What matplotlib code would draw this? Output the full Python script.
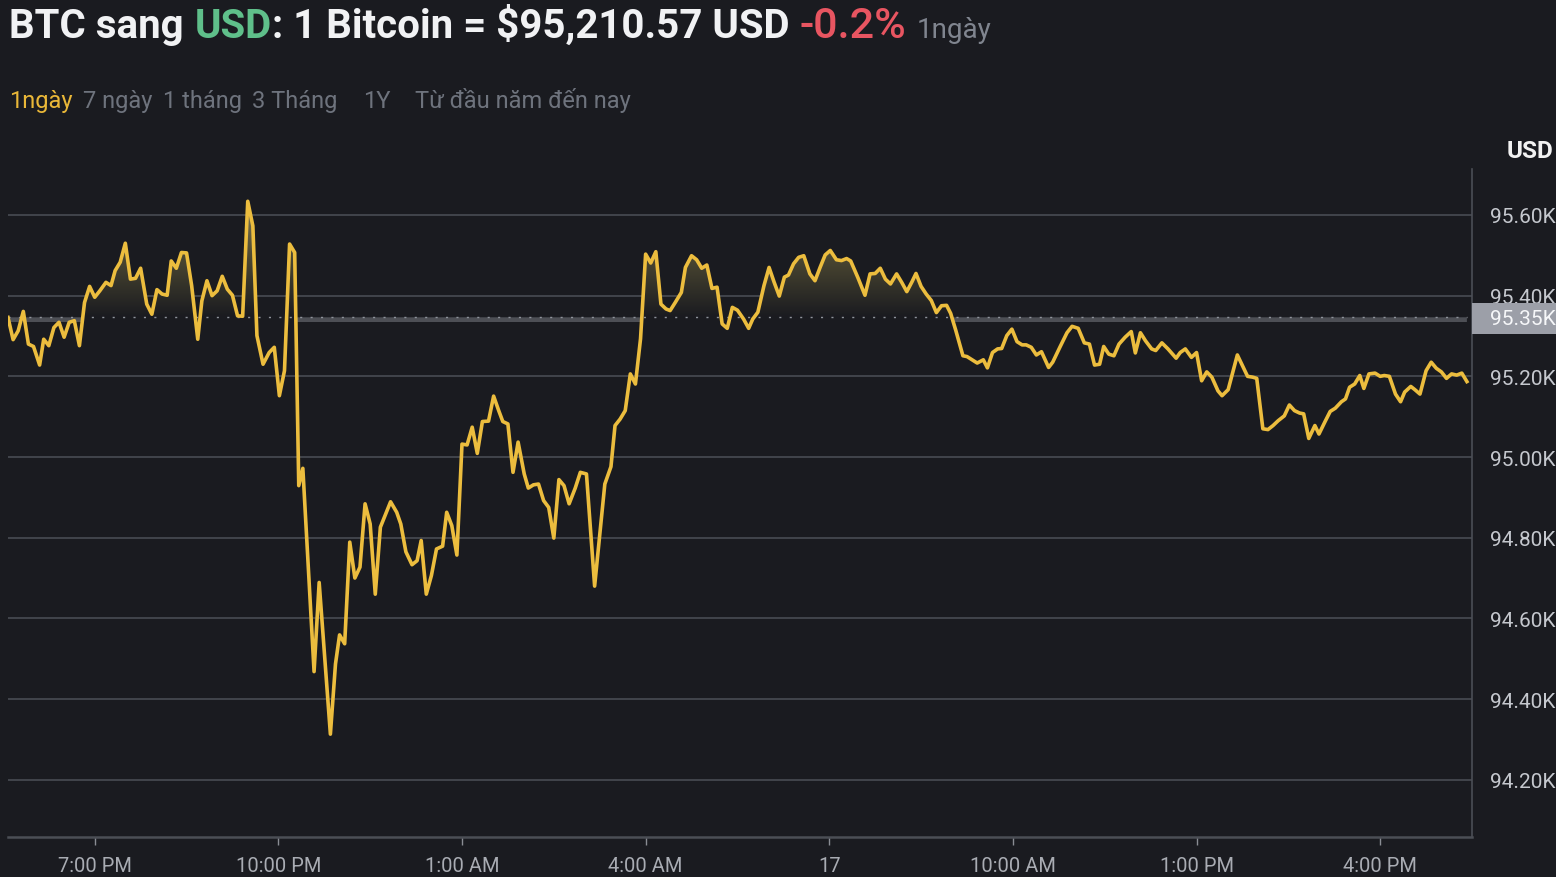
import numpy as np
import matplotlib
matplotlib.use("Agg")
import matplotlib.pyplot as plt
from matplotlib.path import Path
from matplotlib.patches import PathPatch, Rectangle
from matplotlib.colors import LinearSegmentedColormap
from matplotlib.transforms import IdentityTransform, offset_copy

plt.rcParams['font.family'] = ['Roboto', 'DejaVu Sans']

# minutes after 17:35 (day 16), BTC price in USD
minutes = [
    0, 5, 10, 15, 20, 25, 31, 35, 40, 45,
    50, 55, 60, 65, 70, 75, 80, 85, 90, 96,
    101, 105, 110, 115, 120, 125, 130, 136, 141, 146,
    151, 156, 160, 165, 170, 175, 180, 186, 190, 195,
    200, 205, 210, 215, 220, 225, 230, 235, 240, 244,
    250, 256, 261, 266, 271, 276, 281, 285, 289, 300,
    305, 316, 321, 325, 330, 335, 340, 345, 350, 355,
    360, 365, 375, 381, 385, 390, 396, 401, 405, 410,
    415, 420, 426, 430, 435, 440, 445, 450, 455, 460,
    465, 471, 476, 481, 485, 490, 495, 500, 506, 510,
    515, 520, 525, 530, 535, 540, 545, 550, 556, 561,
    567, 575, 581, 585, 591, 595, 600, 605, 610, 615,
    620, 625, 630, 635, 640, 645, 649, 654, 660, 664,
    670, 675, 680, 685, 690, 695, 700, 705, 710, 715,
    721, 726, 730, 735, 741, 746, 751, 756, 761, 765,
    770, 775, 780, 786, 791, 796, 801, 806, 812, 817,
    822, 826, 833, 840, 845, 850, 855, 860, 865, 871,
    876, 881, 886, 890, 895, 900, 905, 910, 915, 920,
    924, 929, 936, 940, 945, 950, 956, 960, 965, 970,
    974, 979, 984, 989, 994, 998, 1003, 1008, 1013, 1020,
    1024, 1031, 1038, 1043, 1049, 1055, 1060, 1065, 1070, 1074,
    1079, 1084, 1089, 1095, 1101, 1105, 1110, 1115, 1121, 1125,
    1131, 1137, 1145, 1149, 1154, 1160, 1165, 1170, 1175, 1180,
    1186, 1190, 1196, 1205, 1215, 1220, 1224, 1230, 1235, 1240,
    1245, 1251, 1256, 1261, 1266, 1270, 1275, 1281, 1285, 1291,
    1296, 1301, 1307, 1311, 1315, 1320, 1325, 1329, 1334, 1340,
    1345, 1349, 1354, 1360, 1365, 1369, 1375, 1379, 1384, 1390,
    1395, 1400, 1405, 1410, 1415, 1420, 1425, 1430,
]
prices = [
    95346, 95291, 95313, 95361, 95280, 95274, 95228, 95292, 95276, 95321,
    95334, 95297, 95334, 95338, 95276, 95383, 95423, 95396, 95412, 95433,
    95425, 95462, 95483, 95530, 95441, 95443, 95468, 95379, 95354, 95415,
    95404, 95401, 95486, 95468, 95507, 95506, 95425, 95292, 95387, 95437,
    95400, 95412, 95448, 95416, 95401, 95350, 95349, 95634, 95573, 95301,
    95230, 95259, 95272, 95152, 95214, 95528, 95507, 94929, 94972, 94468,
    94689, 94313, 94487, 94559, 94537, 94789, 94700, 94727, 94884, 94834,
    94660, 94826, 94889, 94863, 94834, 94765, 94733, 94743, 94793, 94660,
    94706, 94772, 94779, 94863, 94830, 94757, 95032, 95030, 95074, 95009,
    95088, 95089, 95151, 95115, 95088, 95082, 94962, 95037, 94958, 94923,
    94931, 94933, 94892, 94875, 94799, 94944, 94929, 94884, 94923, 94962,
    94958, 94680, 94832, 94933, 94976, 95078, 95094, 95115, 95206, 95181,
    95293, 95503, 95481, 95509, 95379, 95367, 95363, 95383, 95408, 95470,
    95499, 95489, 95468, 95476, 95418, 95421, 95330, 95319, 95371, 95364,
    95342, 95319, 95342, 95359, 95425, 95470, 95433, 95399, 95446, 95451,
    95479, 95495, 95499, 95454, 95437, 95470, 95501, 95512, 95489, 95487,
    95492, 95486, 95445, 95401, 95454, 95455, 95468, 95441, 95429, 95454,
    95433, 95410, 95434, 95455, 95423, 95404, 95388, 95358, 95375, 95376,
    95356, 95314, 95251, 95249, 95241, 95233, 95241, 95221, 95259, 95268,
    95269, 95301, 95317, 95286, 95278, 95278, 95272, 95253, 95261, 95222,
    95235, 95272, 95308, 95324, 95319, 95283, 95280, 95228, 95230, 95274,
    95255, 95251, 95280, 95297, 95311, 95258, 95308, 95288, 95268, 95264,
    95283, 95268, 95245, 95259, 95268, 95247, 95259, 95189, 95211, 95198,
    95164, 95152, 95167, 95253, 95200, 95198, 95195, 95070, 95068, 95078,
    95090, 95102, 95129, 95115, 95109, 95107, 95046, 95078, 95057, 95088,
    95113, 95121, 95137, 95144, 95173, 95181, 95202, 95170, 95206, 95208,
    95200, 95202, 95200, 95156, 95137, 95161, 95175, 95167, 95156, 95214,
    95235, 95220, 95211, 95195, 95206, 95203, 95208, 95187,
]
prev_close = 95348

start_hour = 17 + 35 / 60
tick_hours = [19, 22, 25, 28, 31, 34, 37, 40]
tick_labels = ["7:00 PM", "10:00 PM", "1:00 AM", "4:00 AM", "17",
               "10:00 AM", "1:00 PM", "4:00 PM"]
y_ticks = [94200, 94400, 94600, 94800, 95000, 95200, 95400, 95600]

tabs = ["1ngày", "7 ngày", "1 tháng", "3 Tháng", "1Y", "Từ đầu năm đến nay"]
tab_x = [9, 83, 163, 252, 363, 415]

BG = '#1a1b20'
GOLD = '#ecbd3e'
W, H = 1556, 878

fig = plt.figure(figsize=(W / 100, H / 100), dpi=100, facecolor=BG)
ax = fig.add_axes([8 / W, 1 - 838 / H, 1464 / W, 668 / H])
ax.set_facecolor(BG)

t = np.array(minutes, float)
p = np.array(prices, float)
base = prev_close

# gradient area above previous close
fb = ax.fill_between(t, p, base, where=p >= base, interpolate=True,
                     color='none', lw=0)
clip = PathPatch(Path.make_compound_path(*fb.get_paths()),
                 transform=ax.transData, fc='none', ec='none')
ax.add_patch(clip)
cmap = LinearSegmentedColormap.from_list('olive', [BG, '#4a4631', '#817a55'])
grad = np.linspace(0, 1, 256).reshape(-1, 1)
im = ax.imshow(grad, cmap=cmap, origin='lower', aspect='auto',
               extent=[t[0], t[-1], base, p.max()], zorder=1,
               interpolation='bilinear')
im.set_clip_path(clip)

# grey band under the close line, hidden where the area is drawn
tg = np.linspace(t[0], t[-1], 3000)
pg = np.interp(tg, t, p)
up = pg >= base
i = 0
while i < len(up):
    j = i
    while j < len(up) and up[j] == up[i]:
        j += 1
    if not up[i] and i > 0 and j < len(up) and tg[j - 1] - tg[i] < 30:
        up[i:j] = True
    i = j
band = np.where(up, np.nan, base)
ax.plot(tg, band, color='#4d4f55', lw=3.4, solid_capstyle='butt', zorder=0.8,
        transform=offset_copy(ax.transData, fig=fig, y=-3, units='dots'))

ax.plot([t[0], t[-1]], [base, base], color='#8f939b', lw=1,
        ls=(0, (1.5, 6)), zorder=2)
ax.plot(t, p, color=GOLD, lw=2.6, zorder=3, solid_joinstyle='round')

ax.set_xlim(0, 1435)
ax.set_ylim(94058, 95714)

ax.set_yticks(y_ticks)
ax.set_yticklabels([f"{v / 1000:.2f}K" for v in y_ticks])
ax.yaxis.tick_right()
ax.set_axisbelow(True)
ax.grid(axis='y', color='#45484f', lw=1.3)
ax.tick_params(axis='y', length=0, pad=13, labelsize=15, labelcolor='#c5c8ce')

ax.set_xticks([(h - start_hour) * 60 for h in tick_hours])
ax.set_xticklabels(tick_labels)
ax.tick_params(axis='x', length=6, width=1, color='#8a8d94', pad=8,
               labelsize=14.5, labelcolor='#a9acb3')

for s in ['top', 'left']:
    ax.spines[s].set_visible(False)
ax.spines['bottom'].set_color('#4b4e55')
ax.spines['bottom'].set_linewidth(1.8)
ax.spines['right'].set_color('#4b4e55')
ax.spines['right'].set_linewidth(1.2)

# price label box on the right
yc = ax.transData.transform((0, base))[1] - 2
fig.add_artist(Rectangle((1472, yc - 15.5), 100, 31, transform=IdentityTransform(),
                         fc='#9c9fa8', ec='none', zorder=5))
fig.text(1490, yc, f"{base / 1000:.2f}K", transform=IdentityTransform(),
         color='#f6f7f9', fontsize=15, va='center', zorder=6)

fig.text(1507 / W, 1 - 151 / H, "USD", color='#f2f2f2', fontsize=17.5,
         fontweight='bold', va='center')

# title, pieces side by side
renderer = fig.canvas.get_renderer()
pieces = [
    ("BTC sang", '#f1f2f4', 29, 'bold', 11),
    ("USD", '#5fbf8a', 29, 'bold', 0),
    (": 1 Bitcoin = $95,210.57 USD", '#f1f2f4', 29, 'bold', 10),
    ("-0.2%", '#e85561', 31, 'medium', 10),
    ("1ngày", '#80858f', 20, 'normal', 0),
]
x = 9
for txt, col, size, weight, gap in pieces:
    tt = fig.text(x / W, 1 - 38 / H, txt, color=col, fontsize=size,
                  fontweight=weight, va='baseline')
    bb = tt.get_window_extent(renderer)
    x = bb.x1 + gap

for k, (name, xx) in enumerate(zip(tabs, tab_x)):
    fig.text(xx / W, 1 - 108 / H, name, fontsize=17, va='baseline',
             color='#e9b738' if k == 0 else '#6e737d')

fig.savefig("out.png", dpi=100, facecolor=BG)
